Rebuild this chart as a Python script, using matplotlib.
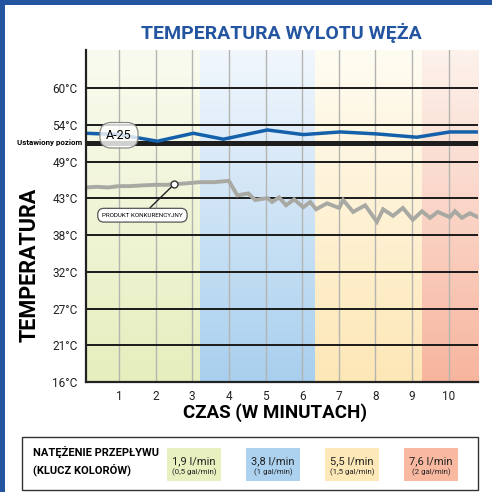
import numpy as np
import matplotlib
matplotlib.use("Agg")
from matplotlib import pyplot as plt
from matplotlib.patches import Rectangle

plt.rcParams['font.family'] = ['Roboto', 'DejaVu Sans']

# data
y_ticks_c = [15.56, 21.11, 26.67, 32.22, 37.78, 43.33, 48.89, 54.44, 60.0]
y_labels = ["16°C", "21°C", "27°C", "32°C", "38°C", "43°C", "49°C", "54°C", "60°C"]
x_ticks = [1, 2, 3, 4, 5, 6, 7, 8, 9, 10]
set_point = 51.7

a25_t = [0.1, 1.0, 2.05, 3.03, 3.85, 5.05, 6.03, 7.04, 8.04, 9.13, 10.03, 10.8]
a25_c = [53.2, 53.0, 52.0, 53.2, 52.3, 53.7, 53.0, 53.4, 53.1, 52.6, 53.4, 53.4]

comp_t = [0.1, 0.4, 0.7, 1.0, 1.3, 1.6, 2.0, 2.3, 2.5, 2.8, 3.2, 3.6, 4.0,
          4.23, 4.53, 4.72, 5.05, 5.18, 5.37, 5.56, 5.78, 6.03, 6.22, 6.38,
          6.68, 7.01, 7.12, 7.39, 7.72, 8.04, 8.21, 8.48, 8.75, 9.02, 9.27,
          9.49, 9.70, 10.03, 10.17, 10.36, 10.58, 10.8]
comp_c = [45.0, 45.1, 45.0, 45.2, 45.2, 45.3, 45.4, 45.4, 45.5, 45.6, 45.8, 45.8, 46.0,
          43.8, 44.1, 43.1, 43.4, 42.8, 43.5, 42.3, 43.2, 42.0, 42.8, 41.7,
          42.6, 41.9, 43.1, 41.3, 42.3, 39.8, 41.7, 40.7, 41.9, 40.1, 41.4,
          40.4, 41.3, 40.5, 41.4, 40.4, 41.1, 40.5]

zones = [0.1, 3.2, 6.35, 9.27, 10.8]
zone_top = ['#fafbf0', '#f2f7fd', '#fffcf2', '#fdf2ec']
zone_bottom = ['#e6eebd', '#a8cfee', '#fde7b6', '#f7b59e']
flow_l = ["1,9 l/min", "3,8 l/min", "5,5 l/min", "7,6 l/min"]
flow_gal = ["(0,5 gal/min)", "(1 gal/min)", "(1,5 gal/min)", "(2 gal/min)"]
key_fill = ['#e8f0c0', '#acd2f0', '#fde8b8', '#f9b9a1']

ymin, ymax = 15.56, 65.8

fig = plt.figure(figsize=(4.92, 4.92), dpi=100)
ax = fig.add_axes([86/492, 1-382/492, 392/492, 332/492])

# colour zones with vertical gradient
for i in range(4):
    top = np.array(matplotlib.colors.to_rgb(zone_top[i]))
    bot = np.array(matplotlib.colors.to_rgb(zone_bottom[i]))
    f = np.linspace(0, 1, 200)[:, None]
    grad = (top*(1-f) + bot*f)[:, None, :]
    ax.imshow(grad, extent=(zones[i], zones[i+1], ymin, ymax), aspect='auto',
              origin='upper', zorder=0)

for x in x_ticks:
    ax.axvline(x, color='#b4b4b0', lw=1, zorder=1)
for y in y_ticks_c[1:]:
    ax.axhline(y, color='#1a1a1a', lw=1.4, zorder=2)
ax.axhline(set_point, color='#1e1e1e', lw=3.6, zorder=3)

ax.plot(comp_t, comp_c, color='#a9a9a3', lw=2.8, zorder=4, solid_joinstyle='miter')
ax.plot(a25_t, a25_c, color='#1460aa', lw=2.5, zorder=5)

ax.set_xlim(zones[0], zones[-1])
ax.set_ylim(ymin, ymax)
ax.set_xticks(x_ticks)
ax.set_xticklabels([str(v) for v in x_ticks], fontsize=8.5)
ax.set_yticks(y_ticks_c)
ax.set_yticklabels(y_labels, fontsize=8.5)
ax.tick_params(axis='both', length=0, pad=6, colors='#222')
for s in ['top', 'right']:
    ax.spines[s].set_visible(False)
for s in ['left', 'bottom']:
    ax.spines[s].set_linewidth(1.6)
    ax.spines[s].set_color('#222')
    ax.spines[s].set_zorder(6)

# labels on lines
ax.text(1.0, 52.9, "A-25", fontsize=9, ha='center', va='center', zorder=7,
        bbox=dict(boxstyle='round,pad=0.5,rounding_size=0.9', fc=(1, 1, 1, 0.8),
                  ec='#8a8a8a', lw=0.9))
ax.annotate("PRODUKT KONKURENCYJNY", xy=(2.51, 45.5), xytext=(1.64, 40.8),
            fontsize=4.5, ha='center', va='center', zorder=7,
            bbox=dict(boxstyle='round,pad=0.7,rounding_size=1.0', fc='white',
                      ec='#555', lw=0.9),
            arrowprops=dict(arrowstyle='-', color='#222', lw=1, shrinkA=0, shrinkB=2))
ax.plot([2.51], [45.5], 'o', ms=5, mfc='white', mec='#333', mew=1, zorder=8)

fig.text(82/492, 1-142/492, "Ustawiony poziom", fontsize=5.7, fontweight='bold',
         ha='right', va='center')

fig.text(281/492, 1-33/492, "TEMPERATURA WYLOTU WĘŻA", fontsize=14, fontweight='bold',
         color='#2455a0', ha='center', va='center')
fig.text(30/492, 1-265/492, "TEMPERATURA", fontsize=15.5, fontweight='bold',
         rotation=90, ha='center', va='center')
fig.text(275/492, 1-413/492, "CZAS (W MINUTACH)", fontsize=13.5, fontweight='bold',
         ha='center', va='center')

# colour key box
fig.add_artist(Rectangle((22/492, 1-490/492), 456/492, 53/492, transform=fig.transFigure,
                         fc='white', ec='#333', lw=1))
fig.text(33/492, 1-452/492, "NATĘŻENIE PRZEPŁYWU", fontsize=8, fontweight='bold',
         ha='left', va='center')
fig.text(33/492, 1-470/492, "(KLUCZ KOLORÓW)", fontsize=8, fontweight='bold',
         ha='left', va='center')
key_x = [167, 246, 325, 404]
for i in range(4):
    x0 = key_x[i]
    fig.add_artist(Rectangle((x0/492, 1-481/492), 54/492, 33/492,
                             transform=fig.transFigure, fc=key_fill[i], ec='none'))
    fig.text((x0+27)/492, 1-461/492, flow_l[i], fontsize=8, ha='center', va='center',
             color='#222')
    fig.text((x0+27)/492, 1-472/492, flow_gal[i], fontsize=5.7, ha='center', va='center',
             color='#222')

# blue frame
fig.add_artist(Rectangle((0, 1-5/492), 1, 5/492, transform=fig.transFigure,
                         fc='#2455a0', ec='none'))
fig.add_artist(Rectangle((0, 0), 5/492, 1, transform=fig.transFigure,
                         fc='#2455a0', ec='none'))

fig.savefig("out.png", dpi=100)
